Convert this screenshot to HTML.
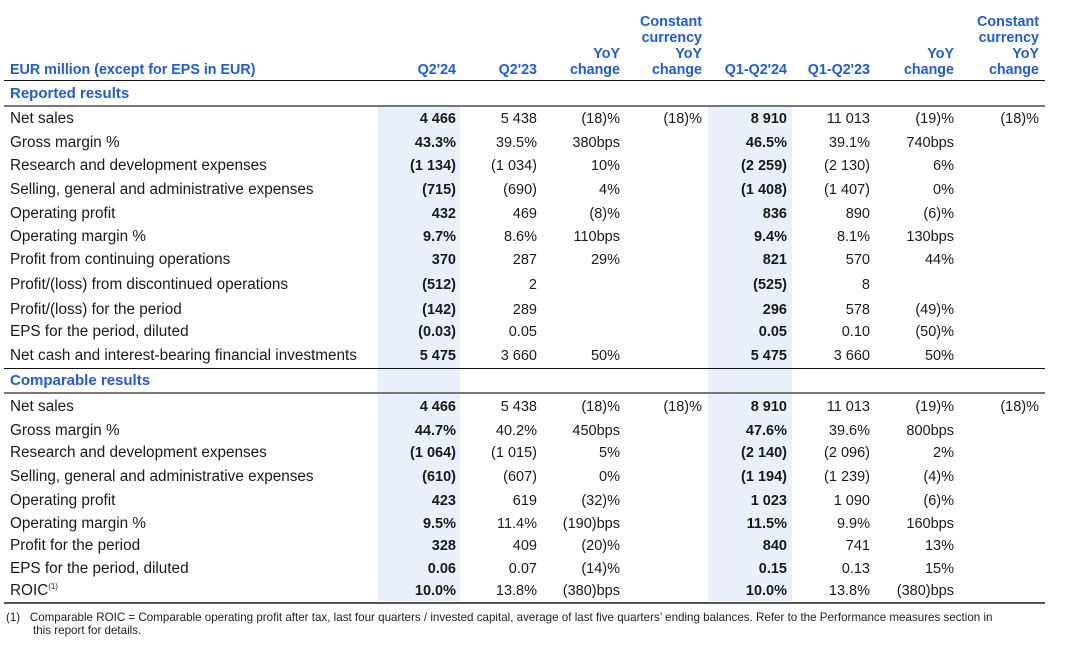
<!DOCTYPE html>
<html><head><meta charset="utf-8"><style>
body{margin:0;width:1065px;height:649px;background:#fff;position:relative;overflow:hidden;font-family:"Liberation Sans",sans-serif;color:#1a1a1a}
.a{position:absolute;white-space:nowrap}
.h{color:#1f5ae0;font-weight:bold;font-size:14.3px;text-align:right;line-height:16px}
.c{font-size:14.5px;text-align:right;width:90px}
.l{font-size:15.3px;left:10px}
.b{font-weight:bold}
.sec{color:#1f5ae0;font-weight:bold;font-size:15px;left:10px}
.shade{position:absolute;background:#e9f0fb}
</style></head><body>
<div class="shade" style="left:378px;top:106px;width:82px;height:495px"></div>
<div class="shade" style="left:708px;top:106px;width:84px;height:495px"></div>
<div id="hdr"></div>
<div class="a" style="left:4px;top:80px;width:1041px;height:1px;background:#111"></div>
<div class="a" style="left:4px;top:105px;width:1041px;height:2px;background:#777"></div>
<div class="a" style="left:4px;top:368px;width:1041px;height:1px;background:#111"></div>
<div class="a" style="left:4px;top:392px;width:1041px;height:2px;background:#777"></div>
<div class="a" style="left:4px;top:602px;width:1041px;height:2px;background:#555"></div>
<div class="a sec" style="top:85px">Reported results</div>
<div class="a sec" style="top:372px">Comparable results</div>
<div class="a" style="left:6px;top:611px;font-size:11.6px;line-height:13px;color:#222;white-space:normal;width:1055px">(1)&nbsp;&nbsp;&nbsp;Comparable ROIC = Comparable operating profit after tax, last four quarters / invested capital, average of last five quarters’ ending balances. Refer to the Performance measures section in<br><span style="padding-left:27px">this report for details.</span></div>
<script>
const colRight=[456,537,620,702,787,870,954,1039];
const headers=[["Q2'24"],["Q2'23"],["YoY","change"],["Constant","currency","YoY","change"],["Q1-Q2'24"],["Q1-Q2'23"],["YoY","change"],["Constant","currency","YoY","change"]];
const reported=[
["Net sales","4 466","5 438","(18)%","(18)%","8 910","11 013","(19)%","(18)%"],
["Gross margin %","43.3%","39.5%","380bps","","46.5%","39.1%","740bps",""],
["Research and development expenses","(1 134)","(1 034)","10%","","(2 259)","(2 130)","6%",""],
["Selling, general and administrative expenses","(715)","(690)","4%","","(1 408)","(1 407)","0%",""],
["Operating profit","432","469","(8)%","","836","890","(6)%",""],
["Operating margin %","9.7%","8.6%","110bps","","9.4%","8.1%","130bps",""],
["Profit from continuing operations","370","287","29%","","821","570","44%",""],
["Profit/(loss) from discontinued operations","(512)","2","","","(525)","8","",""],
["Profit/(loss) for the period","(142)","289","","","296","578","(49)%",""],
["EPS for the period, diluted","(0.03)","0.05","","","0.05","0.10","(50)%",""],
["Net cash and interest-bearing financial investments","5 475","3 660","50%","","5 475","3 660","50%",""]];
const comparable=[
["Net sales","4 466","5 438","(18)%","(18)%","8 910","11 013","(19)%","(18)%"],
["Gross margin %","44.7%","40.2%","450bps","","47.6%","39.6%","800bps",""],
["Research and development expenses","(1 064)","(1 015)","5%","","(2 140)","(2 096)","2%",""],
["Selling, general and administrative expenses","(610)","(607)","0%","","(1 194)","(1 239)","(4)%",""],
["Operating profit","423","619","(32)%","","1 023","1 090","(6)%",""],
["Operating margin %","9.5%","11.4%","(190)bps","","11.5%","9.9%","160bps",""],
["Profit for the period","328","409","(20)%","","840","741","13%",""],
["EPS for the period, diluted","0.06","0.07","(14)%","","0.15","0.13","15%",""],
["ROIC","10.0%","13.8%","(380)bps","","10.0%","13.8%","(380)bps",""]];
const repTops=[110,134,157,181,205,228,251,276,301,323,347];
const compTops=[398,422,444,468,492,515,537,560,582];
const hdr=document.body;
headers.forEach((h,i)=>{const d=document.createElement('div');d.className='a h';


d.style.right=(1065-colRight[i])+'px';d.style.top=(78-16*h.length)+'px';d.innerHTML=h.join('<br>');hdr.appendChild(d);});
const t=document.createElement('div');t.className='a h';t.style.left='10px';t.style.top='62px';t.style.textAlign='left';t.textContent='EUR million (except for EPS in EUR)';


hdr.appendChild(t);
function rows(data,tops){data.forEach((r,ri)=>{const y=tops[ri];
const l=document.createElement('div');l.className='a l';l.style.top=y+'px';
if(r[0]==='ROIC'){l.innerHTML='ROIC<sup style="font-size:8px">(1)</sup>';}else l.textContent=r[0];


document.body.appendChild(l);
for(let i=1;i<r.length;i++){if(!r[i])continue;const c=document.createElement('div');c.className='a c'+((i===1||i===5)?' b':'');
c.style.left=(colRight[i-1]-90)+'px';c.style.top=(y+1)+'px';c.textContent=r[i];


document.body.appendChild(c);}});}
rows(reported,repTops);rows(comparable,compTops);
</script>
</body></html>
